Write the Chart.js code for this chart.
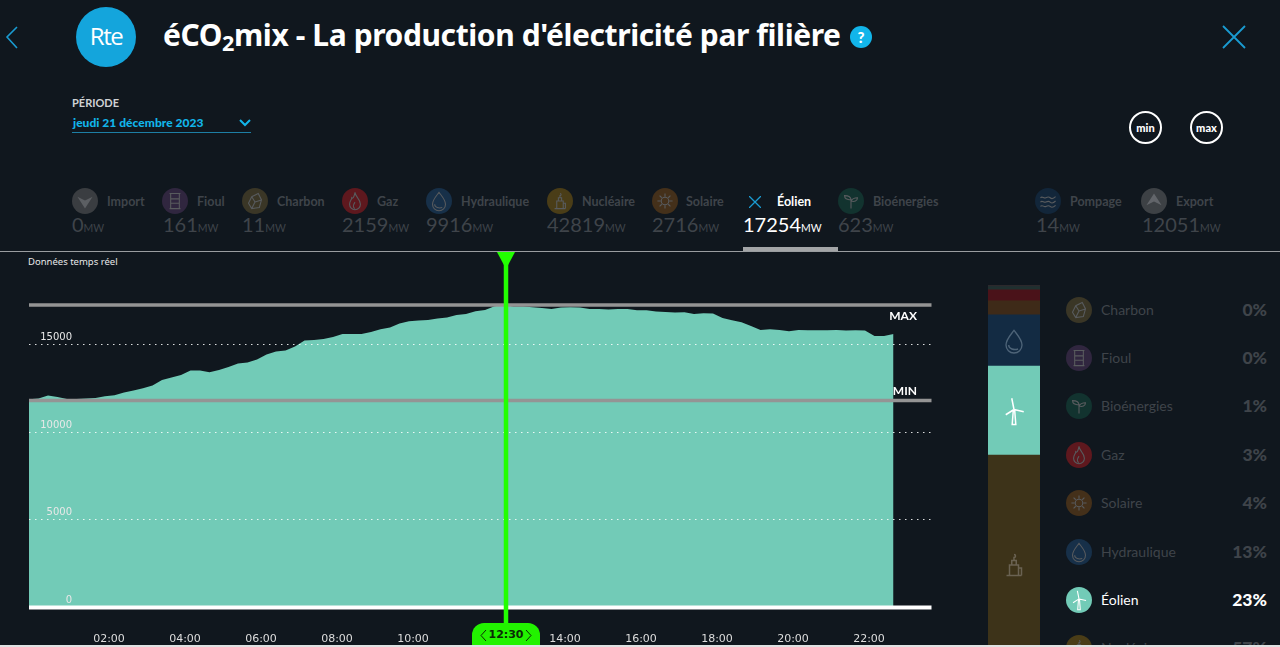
<!DOCTYPE html>
<html lang="fr">
<head>
<meta charset="utf-8">
<title>éCO2mix</title>
<script src="https://cdn.jsdelivr.net/npm/chart.js@4/dist/chart.umd.min.js"></script>
<style>
  html, body { margin: 0; width: 1280px; height: 647px; overflow: hidden; background: #10171e; font-family: Lato, "Noto Sans", sans-serif; }
  .abs { position: absolute; white-space: nowrap; }
  canvas { position: absolute; display: block; }
  sub { font-size: 0.72em; line-height: 0; vertical-align: -0.22em; }
  .dim { color: #3f444a; font-weight: 700; }
  .ico { position: absolute; width: 26px; height: 26px; border-radius: 50%; }
  .ico svg, .free svg { display: block; width: 100%; height: 100%; }
  .free { position: absolute; }
  .round { position: absolute; width: 29px; height: 29px; border: 2px solid #fff; border-radius: 50%; color: #fff; font-size: 11px; font-weight: 900; text-align: center; line-height: 29px; }
</style>
</head>
<body>
<div id="page"></div>
<canvas id="areaChart" width="960" height="407" style="left:0;top:240px;z-index:2"></canvas>
<canvas id="stackChart" width="52" height="362" style="left:988px;top:285px"></canvas>
<div id="overlay"></div>

<script>
// time axis, one point every 15 minutes
const times = [
  '00:00','00:15','00:30','00:45','01:00','01:15','01:30','01:45','02:00','02:15','02:30','02:45',
  '03:00','03:15','03:30','03:45','04:00','04:15','04:30','04:45','05:00','05:15','05:30','05:45',
  '06:00','06:15','06:30','06:45','07:00','07:15','07:30','07:45','08:00','08:15','08:30','08:45',
  '09:00','09:15','09:30','09:45','10:00','10:15','10:30','10:45','11:00','11:15','11:30','11:45',
  '12:00','12:15','12:30','12:45','13:00','13:15','13:30','13:45','14:00','14:15','14:30','14:45',
  '15:00','15:15','15:30','15:45','16:00','16:15','16:30','16:45','17:00','17:15','17:30','17:45',
  '18:00','18:15','18:30','18:45','19:00','19:15','19:30','19:45','20:00','20:15','20:30','20:45',
  '21:00','21:15','21:30','21:45','22:00','22:15','22:30','22:45','23:00','23:15','23:30','23:45'
];
const tickLabels = ['02:00','04:00','06:00','08:00','10:00','14:00','16:00','18:00','20:00','22:00'];
const yTicks = [0, 5000, 10000, 15000];

// wind production (MW)
const eolien = [
  11882,11920,12090,12014,11900,11900,11920,11958,12053,12110,12262,12376,
  12509,12661,12984,13117,13269,13516,13516,13421,13554,13725,13915,13972,
  14143,14428,14599,14656,14884,15226,15264,15321,15435,15606,15606,15606,
  15720,15872,15967,16195,16328,16366,16404,16480,16537,16689,16746,16898,
  16976,17185,17254,17166,17166,17128,17090,17033,17109,17128,17109,17033,
  17033,16995,17033,17033,16957,16957,16881,16862,16824,16843,16748,16786,
  16767,16520,16387,16273,16064,15836,15874,15836,15760,15836,15817,15817,
  15817,15836,15798,15817,15798,15493,15493,15607
];
const maxValue = 17254;
const minValue = 11806;
const selectedTime = '12:30';

// header row
const topNames  = ['Import','Fioul','Charbon','Gaz','Hydraulique','Nucléaire','Solaire','Éolien','Bioénergies','Pompage','Export'];
const topValues = [0,161,11,2159,9916,42819,2716,17254,623,14,12051];

// side stack + list, top to bottom
const mixNames   = ['Charbon','Fioul','Bioénergies','Gaz','Solaire','Hydraulique','Éolien','Nucléaire'];
const mixValues  = [11,161,623,2159,2716,9916,17254,42819];
const mixPercent = [0,0,1,3,4,13,23,57];

const barColors = {Charbon:'#2f2d25',Fioul:'#2a2635','Bioénergies':'#20302f',Gaz:'#4a1219',Solaire:'#3e2a18',Hydraulique:'#132b43','Éolien':'#72cbb7','Nucléaire':'#3d3319'};
const iconColors = {Import:'#3a3d41',Fioul:'#30263f',Charbon:'#3a3626',Gaz:'#5e181e',Hydraulique:'#173049','Nucléaire':'#4a3d17',Solaire:'#44301a','Éolien':'#72cbb7','Bioénergies':'#12332f',Pompage:'#12263a',Export:'#3d4145'};

const glyphs = {
  Import: '<path d="M5 8L12 11.5L19 8L12 19Z" fill="#5c5f63" stroke="none"/>',
  Export: '<path d="M5 16L12 12.5L19 16L12 5Z" fill="#62656a" stroke="none"/>',
  Fioul: '<path d="M7 5h10M7 19h10M8 5v14M16 5v14M8 10h8M8 14h8"/>',
  Charbon: '<path d="M6 14L9 8l6-3 3 6-2 7-7 1zM9 8l3 5-3 6M12 13l6-2"/>',
  Gaz: '<path d="M12 4c0 4 5 6 5 11a5 5 0 0 1-10 0c0-3 2-4 2-6 1 1 2 0 3-5zM12 19c-2-1-2-3 0-6"/>',
  Hydraulique: '<path d="M12 4c3 4 6 7 6 11a6 6 0 0 1-12 0c0-4 3-7 6-11zM8 15c0 3 4 4 7 3"/>',
  'Nucléaire': '<path d="M9 19v-7h6v7M7 19h10M15 14h2v5M10.5 12V9h3v3M12 9V7a1 1 0 1 0 0-2"/>',
  Solaire: '<circle cx="12" cy="12" r="3.5"/><path d="M12 5v3M12 16v3M5 12h3M16 12h3M7 7l2 2M15 15l2 2M7 17l2-2M15 9l2-2"/>',
  'Éolien': '<path d="M10.8 21l.7-9h1l.7 9zM12 11L10.5 3.5M12 11l6.5 1.5M12 11l-5.5 3.5"/>',
  'Bioénergies': '<path d="M12 19v-8M12 11c0-3-3-4-6-4 0 3 3 4 6 4zM12 12c1-2 3-3 6-3 0 3-3 4-6 3z"/>',
  Pompage: '<path d="M5 9c2-2 3 1 5 0s3-1 4 0 3 1 5-1M5 13c2-2 3 1 5 0s3-1 4 0 3 1 5-1M5 17c2-2 3 1 5 0s3-1 4 0 3 1 5-1"/>'
};

function svg(name, stroke) {
  return '<svg viewBox="0 0 24 24" fill="none" stroke="' + stroke + '" stroke-width="1">' + glyphs[name] + '</svg>';
}

// layout of the html parts around the charts
const topIconX = [72,162,242,342,426,547,652,0,838,1035,1141];
const topLabelX = [107,197,277,377,461,582,686,777,873,1070,1176];
const topValueX = [72,163,242,342,426,547,652,743,838,1036,1142];
const mixRowY = [310,358,406,455,503,552,600,648];

let html = '';
html += '<svg class="abs" style="left:4px;top:25px" width="16" height="24" fill="none" stroke="#1a9bd1" stroke-width="1.6"><path d="M13 2L3 12L13 23"/></svg>';
html += '<div class="abs" style="left:76px;top:7px;width:60px;height:60px;border-radius:50%;background:#14a5dc"></div>';
html += '<div class="abs" style="left:76px;top:7px;width:60px;line-height:58px;text-align:center;color:#fff;font-size:24px;letter-spacing:-1.5px;font-family:\'Open Sans\'">Rte</div>';
html += '<div class="abs" style="left:163px;top:14px;color:#fff;font-size:30px;font-weight:700;line-height:42px;font-family:\'Noto Sans\';letter-spacing:-0.41px">éCO<sub>2</sub>mix - La production d\'électricité par filière</div>';
html += '<div class="abs" style="left:850px;top:26px;width:22px;height:22px;border-radius:50%;background:#12b5ea;color:#fff;font-weight:900;font-size:15px;line-height:22px;text-align:center">?</div>';
html += '<svg class="abs" style="left:1222px;top:25px" width="24" height="24" stroke="#1a9bd1" stroke-width="1.8"><path d="M1 1L23 23M23 1L1 23"/></svg>';
html += '<div class="abs" style="left:72px;top:96px;color:#cfd2d4;font-size:11px;font-weight:700">PÉRIODE</div>';
html += '<div class="abs" style="left:73px;top:115px;color:#12b5ea;font-size:12px;font-weight:900;letter-spacing:0.03px">jeudi 21 décembre 2023</div>';
html += '<svg class="abs" style="left:239px;top:119px" width="12" height="8" fill="none" stroke="#12b5ea" stroke-width="2"><path d="M1 1L6 6L11 1"/></svg>';
html += '<div class="abs" style="left:72px;top:132px;width:179px;height:1px;background:#1d7fa5"></div>';
html += '<div class="round" style="left:1129px;top:111px">min</div>';
html += '<div class="round" style="left:1190px;top:111px">max</div>';

topNames.forEach(function (name, i) {
  const on = name === 'Éolien';
  if (on) {
    html += '<svg class="abs" style="left:749px;top:196px" width="12" height="12" stroke="#1a9bd1" stroke-width="1.3"><path d="M0 0L12 12M12 0L0 12"/></svg>';
  } else {
    html += '<div class="ico" style="left:' + topIconX[i] + 'px;top:188px;background:' + iconColors[name] + '">' + svg(name, '#585b5e') + '</div>';
  }
  html += '<div class="abs ' + (on ? '' : 'dim') + '" style="left:' + topLabelX[i] + 'px;top:194px;font-size:12.5px;font-weight:700;' + (on ? 'color:#fff' : '') + '">' + name + '</div>';
  html += '<div class="abs" style="left:' + topValueX[i] + 'px;top:210px;font-size:20px;font-weight:400;line-height:28px;' + (on ? 'color:#fff' : 'color:#3f444a') + '">' + topValues[i] + '<span style="font-size:10.5px">MW</span></div>';
});
html += '<div class="abs" style="left:743px;top:247px;width:95px;height:4px;background:#a3a5a7"></div>';
html += '<div class="abs" style="left:0;top:251px;width:1280px;height:1px;background:#9a9da0"></div>';
html += '<div class="abs" style="left:28px;top:255px;color:#e8e8e8;font-size:9.5px;font-family:\'Noto Sans\'">Données temps réel</div>';

mixNames.forEach(function (name, i) {
  const on = name === 'Éolien';
  const y = mixRowY[i];
  html += '<div class="ico" style="left:1066px;top:' + (y - 13) + 'px;background:' + iconColors[name] + '">' + svg(name, on ? '#fff' : '#585b5e') + '</div>';
  html += '<div class="abs" style="left:1101px;top:' + (y - 10) + 'px;font-size:14px;line-height:20px;color:' + (on ? '#fff' : '#3f444a') + '">' + name + '</div>';
  html += '<div class="abs" style="right:13px;top:' + (y - 12) + 'px;font-size:17.5px;line-height:24px;font-weight:900;color:' + (on ? '#fff' : '#3f444a') + '">' + mixPercent[i] + '%</div>';
});
document.getElementById('page').innerHTML = html;

let over = '';
over += '<div class="free" style="left:998px;top:325px;width:32px;height:32px">' + svg('Hydraulique', '#4e6478') + '</div>';
over += '<div class="free" style="left:996px;top:393px;width:36px;height:36px;z-index:3">' + svg('Éolien', '#fff') + '</div>';
over += '<div class="free" style="left:996px;top:547px;width:36px;height:36px">' + svg('Nucléaire', '#6a6252') + '</div>';
// time pill under the cursor
over += '<div class="abs" style="left:472px;top:623px;width:68px;height:24px;border-radius:12px 12px 0 0;background:#22f200;z-index:3;text-align:center;font:bold 11px/24px \'DejaVu Sans\';color:#0b2a06">' + selectedTime + '</div>';
over += '<svg class="abs" style="left:480px;top:629px;z-index:4" width="52" height="13" fill="none" stroke="#0b2a06" stroke-width="1"><path d="M6 1L1 6.5L6 12M46 1L51 6.5L46 12"/></svg>';
over += '<div class="abs" style="left:0;top:645px;width:1280px;height:2px;background:#dfe1e2;z-index:4"></div>';
document.getElementById('overlay').innerHTML = over;

// MAX/MIN lines, zero line, y labels and the green cursor
const overlayPlugin = {
  id: 'overlayPlugin',
  afterDatasetsDraw(chart) {
    const { ctx, chartArea: a, scales: { y } } = chart;
    ctx.save();
    function hline(value, color, width) {
      ctx.strokeStyle = color;
      ctx.lineWidth = width;
      ctx.beginPath();
      ctx.moveTo(a.left, y.getPixelForValue(value));
      ctx.lineTo(a.right, y.getPixelForValue(value));
      ctx.stroke();
    }
    hline(maxValue, '#949494', 3.5);
    hline(minValue, '#949494', 3.5);
    hline(0, '#ffffff', 4);
    ctx.restore();
  },
  afterDraw(chart) {
    const { ctx, scales: { x, y } } = chart;
    ctx.save();
    ctx.fillStyle = '#e8e8e8';
    ctx.font = '10px "DejaVu Sans"';
    ctx.textAlign = 'right';
    ctx.textBaseline = 'middle';
    yTicks.forEach(function (v) {
      ctx.fillText(String(v), 72, y.getPixelForValue(v) - 7);
    });
    ctx.fillStyle = '#ffffff';
    ctx.font = 'bold 12px Lato';
    ctx.fillText('MAX', 917, y.getPixelForValue(maxValue) + 11);
    ctx.fillText('MIN', 917, y.getPixelForValue(minValue) - 9);

    const cx = x.getPixelForValue(times.indexOf(selectedTime)) + 2;
    ctx.strokeStyle = '#22ff00';
    ctx.lineWidth = 4.5;
    ctx.beginPath();
    ctx.moveTo(cx, 12);
    ctx.lineTo(cx, 390);
    ctx.stroke();
    ctx.fillStyle = '#22ff00';
    ctx.beginPath();
    ctx.moveTo(cx - 9, 12);
    ctx.lineTo(cx + 9, 12);
    ctx.lineTo(cx, 29);
    ctx.closePath();
    ctx.fill();
    ctx.restore();
  }
};

new Chart(document.getElementById('areaChart'), {
  type: 'line',
  plugins: [overlayPlugin],
  data: {
    labels: times,
    datasets: [{
      label: 'Éolien',
      data: eolien,
      fill: 'origin',
      backgroundColor: '#72cbb7',
      borderWidth: 0,
      pointRadius: 0,
      tension: 0
    }]
  },
  options: {
    responsive: false,
    animation: false,
    layout: { padding: { left: 29, right: 28.5, top: 16.9, bottom: 0 } },
    plugins: { legend: { display: false }, tooltip: { enabled: false } },
    scales: {
      x: {
        type: 'category',
        offset: false,
        grid: { display: false, drawTicks: false },
        border: { display: false },
        afterFit(s) { s.height = 39.5; },
        ticks: {
          autoSkip: false,
          maxRotation: 0,
          padding: 25,
          labelOffset: 4,
          color: '#dcdcdc',
          font: { family: 'DejaVu Sans', size: 11 },
          callback(value) {
            const label = this.getLabelForValue(value);
            return tickLabels.includes(label) ? label : '';
          }
        }
      },
      y: {
        min: 0,
        max: 20000,
        afterFit(s) { s.width = 0; },
        afterBuildTicks(s) { s.ticks = yTicks.map(function (v) { return { value: v }; }); },
        ticks: { display: false },
        border: { display: false, dash: [1.5, 4.5] },
        grid: { z: 1, drawTicks: false, color: 'rgba(255,255,255,0.85)', lineWidth: 1 }
      }
    }
  }
});

new Chart(document.getElementById('stackChart'), {
  type: 'bar',
  data: {
    labels: ['mix'],
    datasets: mixNames.map(function (name, i) {
      return { label: name, data: [mixValues[i]], backgroundColor: barColors[name], barPercentage: 1, categoryPercentage: 1, borderWidth: 0 };
    })
  },
  options: {
    responsive: false,
    animation: false,
    plugins: { legend: { display: false }, tooltip: { enabled: false } },
    scales: {
      x: { display: false, stacked: true },
      y: { display: false, stacked: true, reverse: true, min: 0, max: 70194 }
    }
  }
});
</script>
</body>
</html>
